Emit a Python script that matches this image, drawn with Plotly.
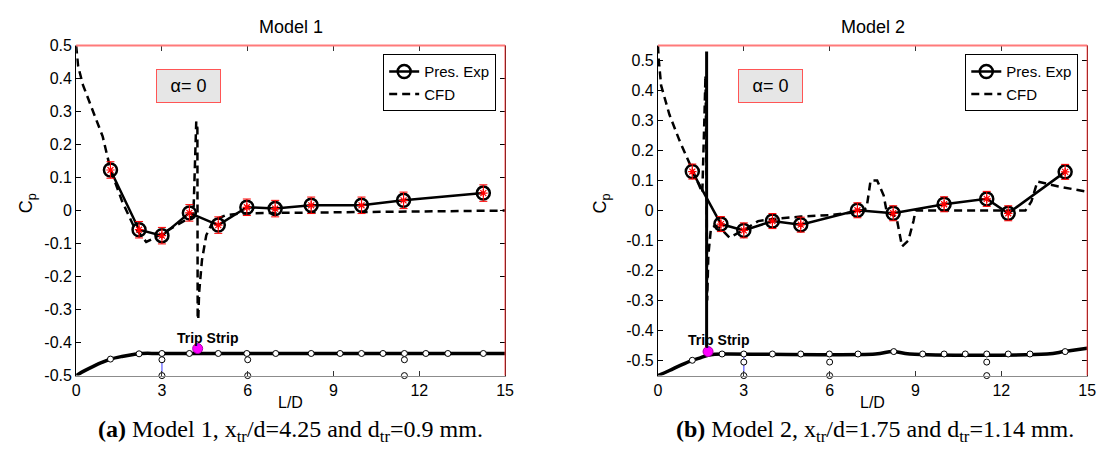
import plotly.graph_objects as go

# ---------------- data ----------------
# Model 1
m1_exp_x = [1.2, 2.2, 3.0, 3.96, 4.97, 5.97, 6.96, 8.22, 9.98, 11.45, 14.24]
m1_exp_cp = [0.123, -0.058, -0.076, -0.007, -0.044, 0.010, 0.006, 0.016, 0.016, 0.031, 0.053]
m1_exp_err = [0.025] * 11

m1_cfd_x = [0, 0.07, 0.24, 0.47, 0.7, 0.93, 1.2, 1.6, 2.0, 2.45, 2.8, 3.2, 3.7, 4.1, 4.2, 4.24, 4.25,
            4.27, 4.3, 4.4, 4.55, 4.8, 5.2, 5.6, 6.0, 9.0, 12.0, 15.0]
m1_cfd_cp = [0.5, 0.437, 0.38, 0.33, 0.28, 0.224, 0.125, 0.03, -0.045, -0.095, -0.08, -0.06, -0.035, -0.015,
             0.27, 0.25, -0.33, -0.33, -0.25, -0.15, -0.075, -0.03, -0.015, -0.01, -0.008, -0.005, -0.002, 0.0]

m1_body_x = [0, 0.3, 0.6, 0.9, 1.2, 1.6, 2.0, 2.3, 3.0, 15.0]
m1_body_cp = [-0.5, -0.485, -0.472, -0.46, -0.45, -0.442, -0.436, -0.433, -0.433, -0.433]

m1_tap_x = [1.2, 2.2, 3.0, 3.96, 4.97, 5.97, 6.98, 8.22, 9.23, 9.98, 10.73, 11.48, 12.23, 13.0, 14.24]
m1_tap_cp = [-0.45, -0.434] + [-0.433] * 13
m1_tap2_x = [3.0, 6.0, 11.48, 3.0, 6.0, 11.48]
m1_tap2_cp = [-0.452, -0.452, -0.452, -0.5, -0.5, -0.5]
m1_blue_x = [3.0, 3.0]
m1_blue_cp = [-0.433, -0.5]
m1_trip_x = [4.25]
m1_trip_cp = [-0.418]

# Model 2
m2_exp_x = [1.2, 2.2, 3.0, 4.0, 4.99, 6.97, 8.22, 10.0, 11.49, 12.24, 14.23]
m2_exp_cp = [0.13, -0.045, -0.066, -0.035, -0.047, 0.001, -0.009, 0.021, 0.039, -0.009, 0.129]
m2_exp_err = [0.025] * 11

m2_cfd_x = [0, 0.03, 0.11, 0.4, 0.75, 1.09, 1.44, 1.55, 1.62, 1.66, 1.70, 1.72, 1.76, 1.85,
            2.0, 2.2, 2.5, 2.8, 3.0, 3.5, 4.0, 5.0, 6.0, 7.0, 7.29, 7.43, 7.66, 7.89, 8.0,
            8.2, 8.36, 8.53, 8.75, 8.93, 9.0, 10.0, 11.0, 12.0, 12.84, 13.05, 13.26, 14.0, 15.0]
m2_cfd_cp = [0.55, 0.50, 0.417, 0.32, 0.234, 0.159, 0.084, 0.06, 0.30, 0.45, 0.10, -0.30, -0.15, -0.06,
             -0.05, -0.06, -0.09, -0.075, -0.065, -0.035, -0.028, -0.02, -0.015, -0.005, 0.008, 0.10, 0.10, 0.05, -0.008,
             -0.012, -0.035, -0.12, -0.10, -0.035, 0.0, 0.0, 0.0, 0.0, 0.0, 0.03, 0.097, 0.08, 0.063]

m2_body_x = [0, 0.4, 0.8, 1.2, 1.5, 1.75, 2.0, 2.3, 7.6, 8.2, 8.8, 13.6, 14.2, 15.0]
m2_body_cp = [-0.55, -0.533, -0.515, -0.499, -0.49, -0.482, -0.479, -0.478, -0.478, -0.47, -0.478,
              -0.478, -0.47, -0.459]

m2_tap_x = [1.2, 2.24, 3.0, 4.0, 4.99, 5.99, 6.99, 8.24, 9.25, 10.0, 10.74, 11.49, 12.24, 13.0, 14.23]
m2_tap_cp = [-0.499, -0.478, -0.478, -0.478, -0.478, -0.478, -0.478, -0.47, -0.478, -0.478, -0.478,
             -0.478, -0.478, -0.478, -0.47]
m2_tap2_x = [3.0, 6.0, 11.49, 3.0, 6.0, 11.49]
m2_tap2_cp = [-0.505, -0.505, -0.505, -0.55, -0.55, -0.55]
m2_blue_x = [3.0, 3.0]
m2_blue_cp = [-0.478, -0.55]
m2_trip_x = [1.75]
m2_trip_cp = [-0.47]
m2_vert_x = [1.7, 1.7]
m2_vert_cp = [-0.47, 0.53]

y1_ticks = [0.5, 0.4, 0.3, 0.2, 0.1, 0, -0.1, -0.2, -0.3, -0.4, -0.5]
y1_labels = ["0.5", "0.4", "0.3", "0.2", "0.1", "0", "-0.1", "-0.2", "-0.3", "-0.4", "-0.5"]
x_ticks = [0, 3, 6, 9, 12, 15]
x_labels = ["0", "3", "6", "9", "12", "15"]

titles = ["Model 1", "Model 2"]
captions = ["<b>(a)</b> Model 1, x<sub>tr</sub>/d=4.25 and d<sub>tr</sub>=0.9 mm.",
            "<b>(b)</b> Model 2, x<sub>tr</sub>/d=1.75 and d<sub>tr</sub>=1.14 mm."]

# ---------------- figure ----------------
W, H = 1112, 460
fig = go.Figure()
FONT = "Liberation Sans, Arial, sans-serif"


def add_model(i, exp_x, exp_cp, exp_err, cfd_x, cfd_cp, body_x, body_cp, tap_x, tap_cp,
              tap2_x, tap2_cp, blue_x, blue_cp, trip_x, trip_cp, extra=None):
    xa = "x" if i == 1 else "x2"
    ya = "y" if i == 1 else "y2"
    leg = "legend" if i == 1 else "legend2"
    fig.add_trace(go.Scatter(x=blue_x, y=blue_cp, mode="lines", line=dict(color="#7b7bff", width=1.5),
                             xaxis=xa, yaxis=ya, showlegend=False, hoverinfo="skip"))
    fig.add_trace(go.Scatter(x=body_x, y=body_cp, mode="lines", line=dict(color="black", width=3.5, shape="spline"),
                             xaxis=xa, yaxis=ya, showlegend=False, hoverinfo="skip"))
    fig.add_trace(go.Scatter(x=tap_x, y=tap_cp, mode="markers", cliponaxis=False,
                             marker=dict(symbol="circle", size=6, color="white", line=dict(color="black", width=1)),
                             xaxis=xa, yaxis=ya, showlegend=False, hoverinfo="skip"))
    fig.add_trace(go.Scatter(x=tap2_x, y=tap2_cp, mode="markers", cliponaxis=False,
                             marker=dict(symbol="circle", size=6, color="white", line=dict(color="black", width=1)),
                             xaxis=xa, yaxis=ya, showlegend=False, hoverinfo="skip"))
    if extra is not None:
        fig.add_trace(go.Scatter(x=extra[0], y=extra[1], mode="lines", line=dict(color="black", width=3),
                                 xaxis=xa, yaxis=ya, showlegend=False, hoverinfo="skip"))
    fig.add_trace(go.Scatter(x=cfd_x, y=cfd_cp, mode="lines", name="CFD", legend=leg, legendrank=2,
                             line=dict(color="black", width=2.5, dash="8px,5px"),
                             xaxis=xa, yaxis=ya))
    fig.add_trace(go.Scatter(x=exp_x, y=exp_cp, mode="lines+markers", name="Pres. Exp", legend=leg, legendrank=1,
                             line=dict(color="black", width=2.5),
                             marker=dict(symbol="circle-open", size=13, color="black", line=dict(width=2.5)),
                             xaxis=xa, yaxis=ya))
    fig.add_trace(go.Scatter(x=exp_x, y=exp_cp, mode="markers", showlegend=False,
                             marker=dict(symbol="asterisk-open", size=7, color="red", line=dict(color="red", width=1.2)),
                             error_y=dict(type="data", array=exp_err, color="red", thickness=1, width=4),
                             xaxis=xa, yaxis=ya))
    fig.add_trace(go.Scatter(x=trip_x, y=trip_cp, mode="markers",
                             marker=dict(symbol="circle", size=10, color="#ff00ff", line=dict(color="#aa00aa", width=1)),
                             xaxis=xa, yaxis=ya, showlegend=False, hoverinfo="skip"))


add_model(1, m1_exp_x, m1_exp_cp, m1_exp_err, m1_cfd_x, m1_cfd_cp, m1_body_x, m1_body_cp,
          m1_tap_x, m1_tap_cp, m1_tap2_x, m1_tap2_cp, m1_blue_x, m1_blue_cp, m1_trip_x, m1_trip_cp)
add_model(2, m2_exp_x, m2_exp_cp, m2_exp_err, m2_cfd_x, m2_cfd_cp, m2_body_x, m2_body_cp,
          m2_tap_x, m2_tap_cp, m2_tap2_x, m2_tap2_cp, m2_blue_x, m2_blue_cp, m2_trip_x, m2_trip_cp,
          extra=(m2_vert_x, m2_vert_cp))


def px(x):
    return x / W


def py(y):
    return 1 - y / H


dom_y = [py(381.7), py(39)]
dom_x1 = [px(73), px(507)]
dom_x2 = [px(661.7), px(1096)]

common_x = dict(range=[0, 15], tickvals=x_ticks, ticktext=x_labels, ticks="inside", ticklen=5,
                tickcolor="#333333", showline=True, linecolor="#8c8c8c", linewidth=1, mirror="ticks",
                showgrid=False, zeroline=False, tickfont=dict(family=FONT, size=16, color="black"))
common_y = dict(ticks="inside", ticklen=5, tickcolor="black", showline=True, linecolor="black", linewidth=1,
                mirror="ticks", showgrid=False, zeroline=False,
                tickfont=dict(family=FONT, size=16, color="black"))

fig.update_layout(
    width=W, height=H, margin=dict(l=0, r=0, t=0, b=0),
    paper_bgcolor="white", plot_bgcolor="white",
    xaxis=dict(domain=dom_x1, anchor="y", **common_x),
    yaxis=dict(domain=dom_y, anchor="x", range=[-0.5, 0.5], tickvals=y1_ticks, ticktext=y1_labels, **common_y),
    xaxis2=dict(domain=dom_x2, anchor="y2", **common_x),
    yaxis2=dict(domain=dom_y, anchor="x2", range=[-0.55, 0.55], tickvals=y1_ticks, ticktext=y1_labels, **common_y),
    legend=dict(x=px(498), y=py(48), xanchor="right", yanchor="top", bgcolor="white",
                bordercolor="black", borderwidth=1, font=dict(family=FONT, size=15, color="black"),
                tracegroupgap=0, itemwidth=30),
    legend2=dict(x=px(1087), y=py(48), xanchor="right", yanchor="top", bgcolor="white",
                 bordercolor="black", borderwidth=1, font=dict(family=FONT, size=15, color="black"),
                 tracegroupgap=0, itemwidth=30),
    showlegend=True,
)

shapes = []
for xr, yr in (("x domain", "y domain"), ("x2 domain", "y2 domain")):
    shapes.append(dict(type="line", xref=xr, yref=yr, x0=0, x1=1, y0=1, y1=1, line=dict(color="#ff7a7a", width=2)))
    shapes.append(dict(type="line", xref=xr, yref=yr, x0=1, x1=1, y0=0, y1=1, line=dict(color="#ff3b3b", width=1)))
fig.update_layout(shapes=shapes)

ann = []
# titles
for cx, t in ((290, titles[0]), (879, titles[1])):
    ann.append(dict(x=px(cx), y=py(20), xref="paper", yref="paper", text=t, showarrow=False,
                    font=dict(family=FONT, size=18, color="black"), xanchor="center", yanchor="middle"))
# axis labels
for cx in (290, 879):
    ann.append(dict(x=px(cx), y=py(410), xref="paper", yref="paper", text="L/D", showarrow=False,
                    font=dict(family=FONT, size=16, color="black"), xanchor="center", yanchor="middle"))
for cx in (24, 605):
    ann.append(dict(x=px(cx), y=py(203), xref="paper", yref="paper", text="C<sub>p</sub>", showarrow=False,
                    textangle=-90, font=dict(family=FONT, size=18, color="black"), xanchor="center",
                    yanchor="middle"))
# alpha boxes
for cx in (186.5, 775.5):
    ann.append(dict(x=px(cx), y=py(81), xref="paper", yref="paper", text="α= 0", showarrow=False,
                    font=dict(family=FONT, size=18, color="black"), bgcolor="#e6e6e6",
                    bordercolor="#ff5555", borderwidth=1, width=61, height=30, align="center",
                    xanchor="center", yanchor="middle"))
# trip strip labels
ann.append(dict(x=4.6, y=-0.385, xref="x", yref="y", text="<b>Trip Strip</b>", showarrow=False,
                font=dict(family=FONT, size=14, color="black"), xanchor="center", yanchor="middle"))
ann.append(dict(x=2.1, y=-0.43, xref="x2", yref="y2", text="<b>Trip Strip</b>", showarrow=False,
                font=dict(family=FONT, size=14, color="black"), xanchor="center", yanchor="middle"))
# captions
for cx, c in ((290, captions[0]), (881, captions[1])):
    ann.append(dict(x=px(cx), y=py(439), xref="paper", yref="paper", text=c, showarrow=False,
                    font=dict(family="Liberation Serif, Times New Roman, serif", size=24, color="black"),
                    xanchor="center", yanchor="middle"))
fig.update_layout(annotations=ann)

fig.write_html("out.html")
